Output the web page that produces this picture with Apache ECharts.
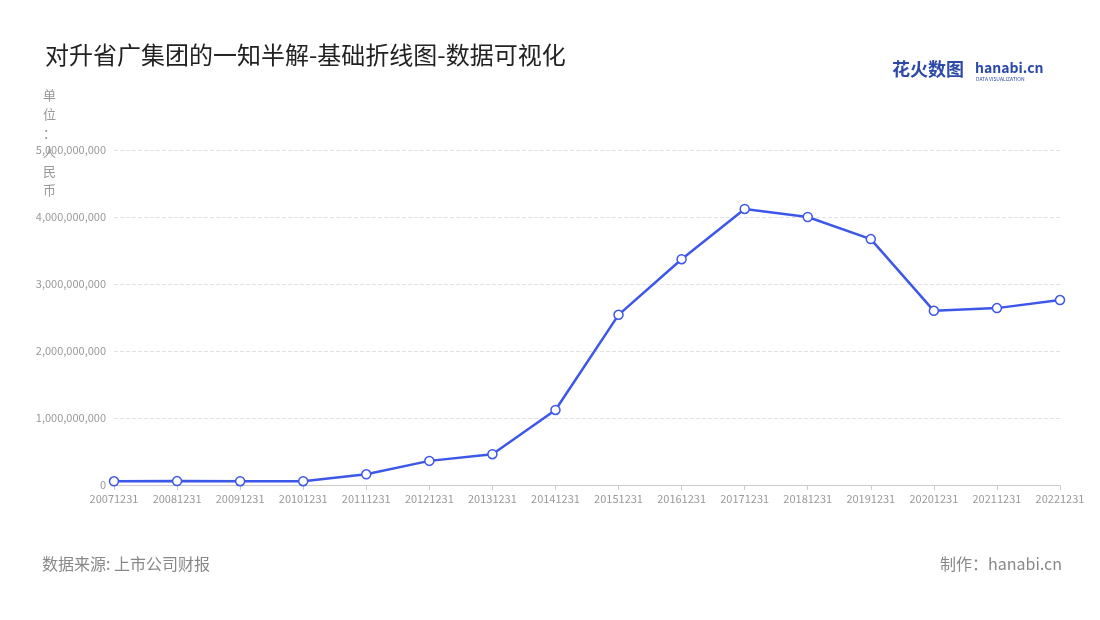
<!DOCTYPE html>
<html><head><meta charset="utf-8">
<script src="https://cdn.jsdelivr.net/npm/echarts@6/dist/echarts.min.js"></script>
<style>html,body{margin:0;padding:0;background:#fff}#c{width:1100px;height:620px}</style>
</head><body><div id="c"></div>
<script>
const categories=['20071231','20081231','20091231','20101231','20111231','20121231','20131231','20141231','20151231','20161231','20171231','20181231','20191231','20201231','20211231','20221231'];
const values=[55000000,58000000,57000000,57000000,160000000,360000000,460000000,1120000000,2540000000,3370000000,4120000000,4000000000,3670000000,2600000000,2640000000,2760000000];
const chart=echarts.init(document.getElementById('c'));
const font='"Noto Sans CJK SC","Noto Sans",sans-serif';
chart.setOption({
  textStyle:{fontFamily:font},
  title:{text:'对升省广集团的一知半解-基础折线图-数据可视化',left:40,top:38,textStyle:{fontSize:24,fontWeight:'normal',color:'#222',fontFamily:font}},
  grid:{left:114,right:40,top:150,bottom:135},
  xAxis:{type:'category',data:categories,boundaryGap:false,
    axisLine:{lineStyle:{color:'#ccc'}},axisTick:{show:true,lineStyle:{color:'#ccc'}},
    axisLabel:{color:'#999',fontSize:11,interval:0}},
  yAxis:{type:'value',min:0,max:5000000000,interval:1000000000,
    axisLabel:{color:'#999',fontSize:11,formatter:v=>v.toLocaleString('en-US')},
    splitLine:{lineStyle:{type:'dashed',color:'#e3e3e3'}},axisLine:{show:false},axisTick:{show:false}},
  series:[{type:'line',data:values,symbol:'circle',symbolSize:9,
    lineStyle:{color:'#3d57e8',width:2.5},
    itemStyle:{color:'#fff',borderColor:'#3d57e8',borderWidth:1.5}}],
  graphic:[
    {type:'text',left:43,top:86,style:{text:'单\n位\n：\n人\n民\n币',fill:'#999',fontSize:13,lineHeight:19,fontFamily:font}},
    {type:'text',left:42,top:556,style:{text:'数据来源: 上市公司财报',fill:'#888',fontSize:16,fontFamily:font}},
    {type:'text',right:38,top:556,style:{text:'制作：hanabi.cn',fill:'#888',fontSize:16,fontFamily:font}},
    {type:'text',left:892,top:60,style:{text:'花火数图',fill:'#2b4aa8',fontSize:18,fontWeight:'bold',fontFamily:font}},
    {type:'text',left:975,top:61,style:{text:'hanabi.cn',fill:'#2b4aa8',fontSize:14,fontWeight:'bold',fontFamily:font}},
    {type:'text',left:976,top:77,style:{text:'DATA VISUALIZATION',fill:'#2b4aa8',fontSize:5,fontFamily:font}}
  ]
});
</script></body></html>
